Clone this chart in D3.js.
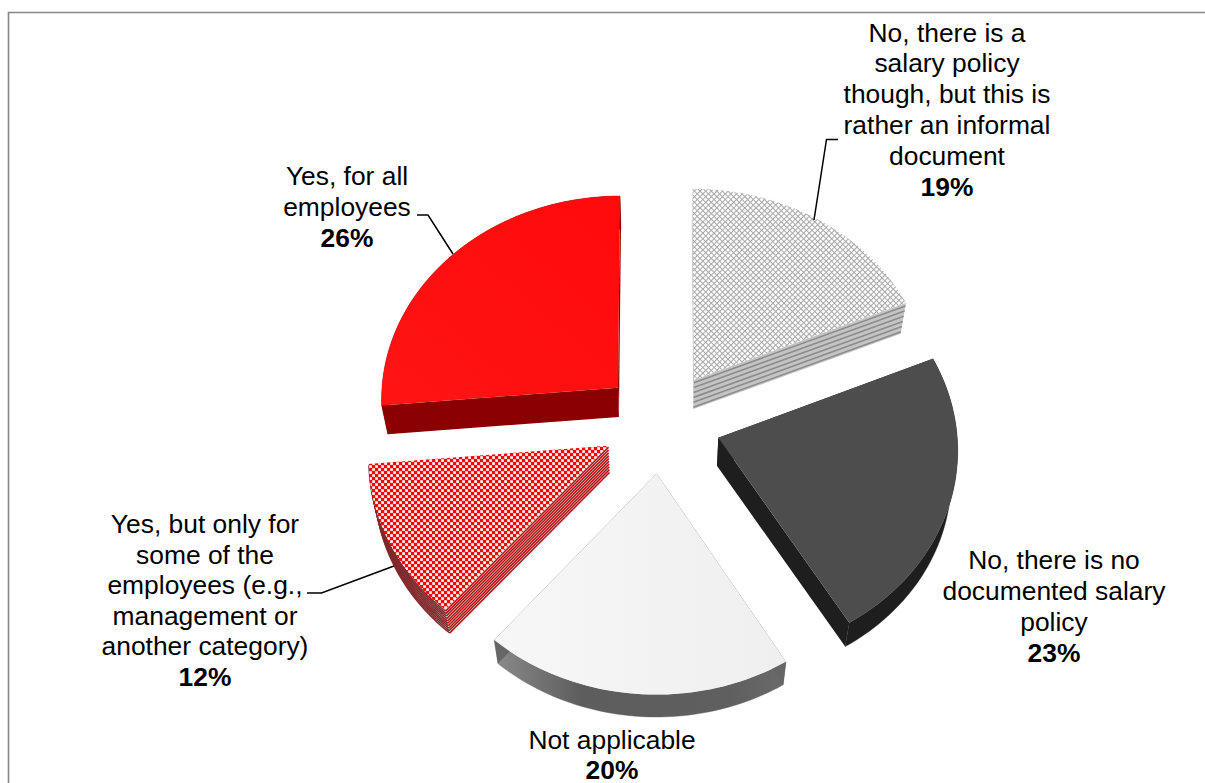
<!DOCTYPE html>
<html>
<head>
<meta charset="utf-8">
<script src="https://cdn.jsdelivr.net/npm/d3@7/dist/d3.min.js"></script>
<style>html,body{margin:0;padding:0;background:#fff;overflow:hidden}svg{display:block}text{font-family:"Liberation Sans",Arial,sans-serif;fill:#000}</style>
</head>
<body>
<svg id="c" width="1205" height="783"></svg>
<script>
const categories = [
  ["No, there is a","salary policy","though, but this is","rather an informal","document"],
  ["No, there is no","documented salary","policy"],
  ["Not applicable"],
  ["Yes, but only for","some of the","employees (e.g.,","management or","another category)"],
  ["Yes, for all","employees"]
];
const values = [18.6, 22.8, 19.8, 12.4, 26.4];

// layout, separate from data
const labelAnchors = [[947,41.5,30.9],[1054,569,31],[612,749,30],[205,533,30.6],[347,184.5,31]];
const leaders = [
  [[814,220],[826.5,139.5],[838,139.5]],
  null,
  null,
  [[394,566],[321.5,593],[307,593]],
  [[453,254],[428,215],[417,215]]
];

const svg = d3.select("#c");
const defs = svg.append("defs");

// patterns
const hatch = defs.append("pattern").attr("id","hatch").attr("patternUnits","userSpaceOnUse")
  .attr("width",3.96).attr("height",3.96).attr("patternTransform","rotate(45)");
hatch.append("rect").attr("width",3.96).attr("height",3.96).attr("fill","#fff");
hatch.append("path").attr("d","M0 0H3.96M0 0V3.96").attr("stroke","#a8a8a8").attr("stroke-width",2.1).attr("fill","none");

const check = defs.append("pattern").attr("id","check").attr("patternUnits","userSpaceOnUse")
  .attr("width",6).attr("height",6);
check.append("rect").attr("width",6).attr("height",6).attr("fill","#ff0000");
check.append("rect").attr("x",0.2).attr("y",0.2).attr("width",2.7).attr("height",2.7).attr("fill","#fff");
check.append("rect").attr("x",3.2).attr("y",3.2).attr("width",2.7).attr("height",2.7).attr("fill","#fff");

const gradTop3 = defs.append("linearGradient").attr("id","top3").attr("x1","0").attr("x2","1");
gradTop3.append("stop").attr("offset","0").attr("stop-color","#f7f7f7");
gradTop3.append("stop").attr("offset","1").attr("stop-color","#efefef");
const gradSide3 = defs.append("linearGradient").attr("id","side3").attr("x1","0").attr("x2","1");
[[0,"#8a8a8a"],[0.3,"#5d5d5d"],[0.8,"#5f5f5f"],[1,"#6a6a6a"]].forEach(s=>gradSide3.append("stop").attr("offset",s[0]).attr("stop-color",s[1]));
const gradTop5 = defs.append("linearGradient").attr("id","top5").attr("x1","0").attr("x2","1").attr("y1","1").attr("y2","0");
gradTop5.append("stop").attr("offset","0").attr("stop-color","#ff1414");
gradTop5.append("stop").attr("offset","1").attr("stop-color","#ff0a0a");

const styles = [
  {top:"url(#hatch)", wall:"#c4c4c4", stripes:6, stripe:"#8c8c8c", sw:1.6, run:"end"},
  {top:"#4d4d4d", wall:"#1e1e1e"},
  {top:"url(#top3)", wall:"url(#side3)"},
  {top:"url(#check)", wall:"#e4d6d6", stripes:10, stripe:"#b40f0f", rimStripe:"#80282a", sw:1.45, run:"start"},
  {top:"url(#top5)", wall:"#8b0000"}
];

// projection of the tilted exploded pie
const cx=661.5, cy=422, Rx=238, Ry=204.6, persp=0.05, explode=0.25, depth=28.4, shrink=0.022;
function proj(u,v,z){
  const w=1+persp*v;
  let X=cx+Rx*u/w, Y=cy-Ry*v/w;
  if(z){const s=1-shrink*z; X=cx+(X-cx)*s; Y=cy+(Y-cy)*s+depth*z;}
  return [X,Y];
}
const arcs = d3.pie().sort(null).startAngle(0).endAngle(2*Math.PI)(values);
const line = d3.line();

const g = svg.append("g");
arcs.forEach((a,i)=>{
  const mid=(a.startAngle+a.endAngle)/2;
  const ex=explode*Math.sin(mid), ey=explode*Math.cos(mid);
  const n=Math.max(8,Math.round((a.endAngle-a.startAngle)*40));
  const thetas=d3.range(n+1).map(k=>a.startAngle+(a.endAngle-a.startAngle)*k/n);
  const rim=z=>thetas.map(t=>proj(ex+Math.sin(t),ey+Math.cos(t),z));
  const apex=z=>proj(ex,ey,z);
  const outline=z=>[apex(z),...rim(z),apex(z)];
  const st=styles[i];
  const sl=g.append("g").attr("class","slice");
  const r0=rim(0), r1=rim(1);
  const wallFill=st.wall;
  if(st.run!=="end") sl.append("path").attr("d",line([...r0,...r1.slice().reverse()])+"Z").attr("fill",wallFill).attr("stroke",st.stripes?"none":wallFill).attr("stroke-width",0.4);
  sl.append("path").attr("d",line([apex(0),r0[0],r1[0],apex(1)])+"Z").attr("fill",st.stripes?wallFill:(i===2?"#666":wallFill));
  sl.append("path").attr("d",line([apex(0),r0[n],r1[n],apex(1)])+"Z").attr("fill",st.stripes?wallFill:(i===2?"#666":wallFill));
  if(st.stripes){
    d3.range(st.stripes).forEach(k=>{
      const z=(k+0.6)/st.stripes;
      if(st.run==="end"){
        sl.append("path").attr("d",line([apex(z),rim(z)[n]])).attr("fill","none").attr("stroke",st.stripe).attr("stroke-width",st.sw);
      } else {
        sl.append("path").attr("d",line(rim(z))).attr("fill","none").attr("stroke",st.rimStripe).attr("stroke-width",st.sw);
        sl.append("path").attr("d",line([apex(z),rim(z)[0]])).attr("fill","none").attr("stroke",st.stripe).attr("stroke-width",st.sw);
      }
    });
  }
  sl.append("path").attr("d",line(outline(0))+"Z").attr("fill",st.top);
});

// leader lines
leaders.forEach(l=>{ if(l) svg.append("path").attr("d",line(l)).attr("fill","none").attr("stroke","#000").attr("stroke-width",1.5); });

// labels
const pct=d3.format(".0f");
arcs.forEach((a,i)=>{
  const [x,y,lh]=labelAnchors[i];
  const t=svg.append("text").attr("text-anchor","middle").attr("font-size",26.4);
  categories[i].forEach((s,k)=>t.append("tspan").attr("x",x).attr("y",y+k*lh).text(s));
  t.append("tspan").attr("x",x).attr("y",y+categories[i].length*lh).attr("font-weight","bold").text(pct(a.value)+"%");
});

// frame
svg.append("path").attr("d","M8.5 790V12.5H1210").attr("fill","none").attr("stroke","#868686").attr("stroke-width",1.6);
</script>
</body>
</html>
